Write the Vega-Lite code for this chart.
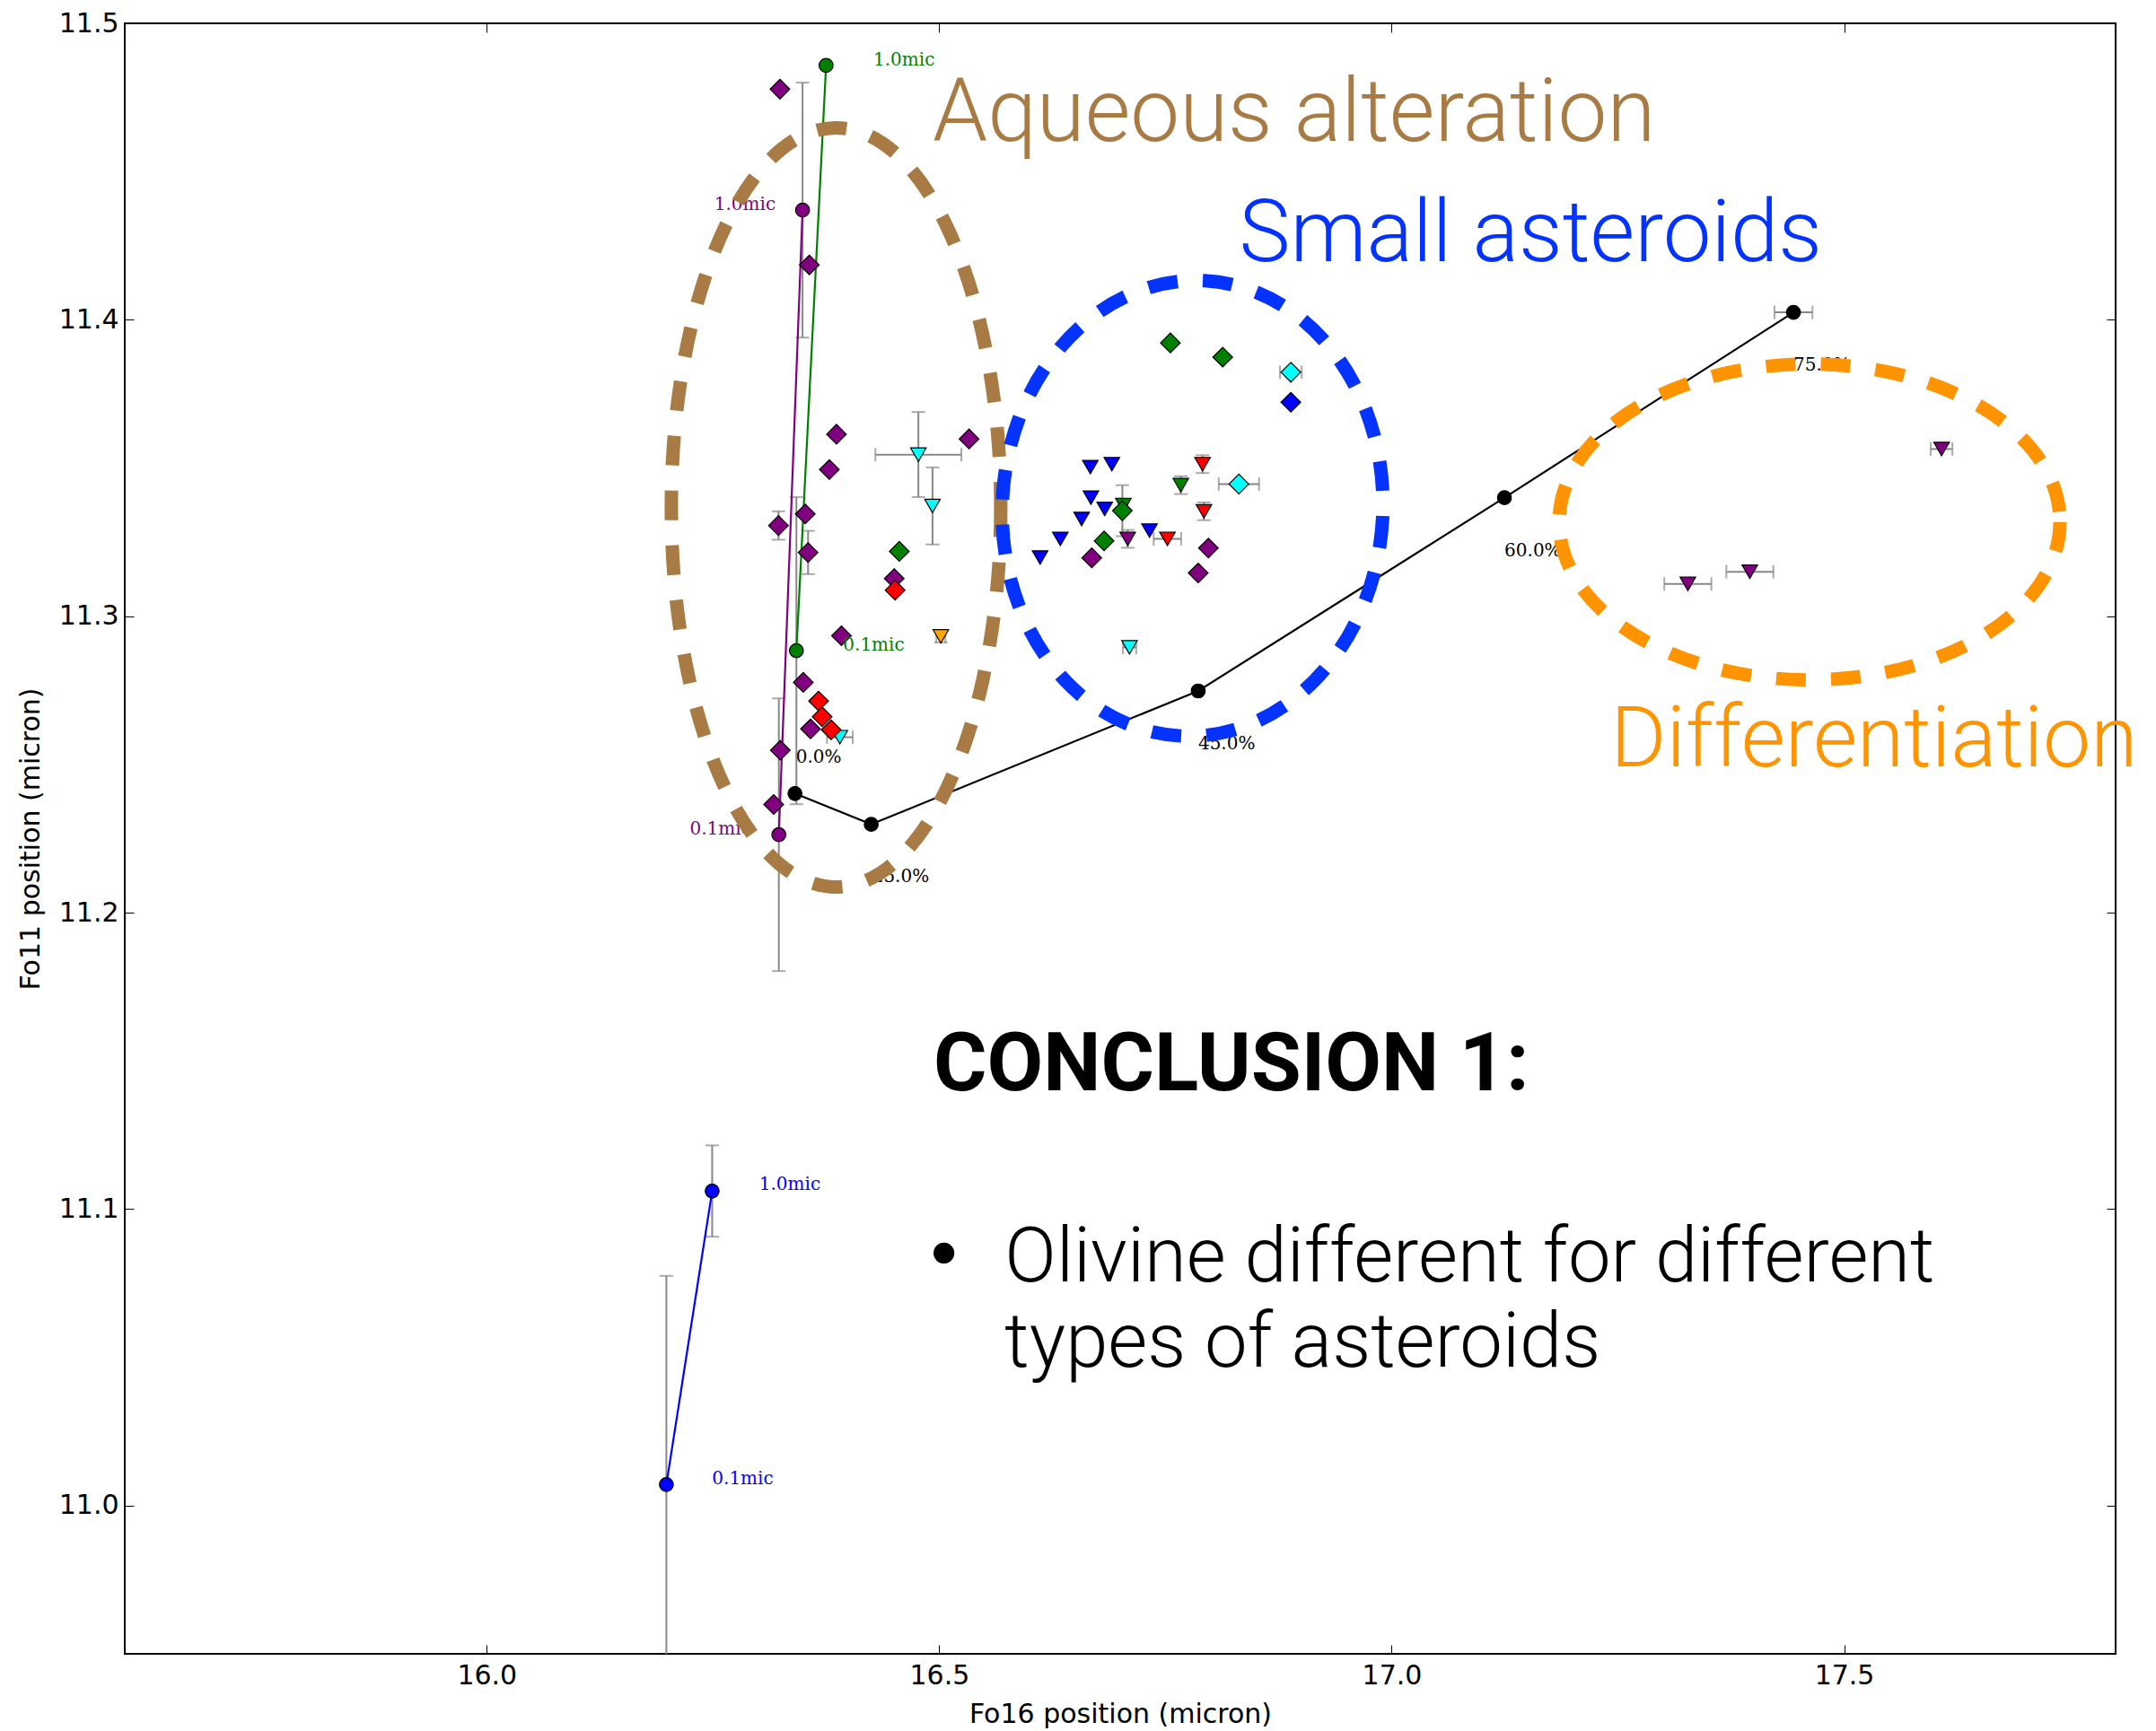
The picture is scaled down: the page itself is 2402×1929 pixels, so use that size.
{
  "$schema": "https://vega.github.io/schema/vega-lite/v6.json",
  "width": 2218,
  "height": 1817,
  "autosize": {"type": "none"},
  "padding": {"left": 139, "top": 26, "right": 45, "bottom": 86},
  "background": "white",
  "config": {
    "view": {"stroke": "black", "strokeWidth": 2},
    "axis": {
      "grid": false, "domain": false, "tickColor": "black", "tickWidth": 1, "tickSize": -10,
      "labelFont": "DejaVu Sans", "labelFontSize": 30, "labelColor": "black",
      "titleFont": "DejaVu Sans", "titleFontSize": 30, "titleFontWeight": "normal", "titleColor": "black",
      "labelFlush": false, "labelOverlap": false
    }
  },
  "resolve": {"axis": {"x": "independent", "y": "independent"}},
  "datasets": {
    "vbars": [
      {"x": 16.349, "ylo": 11.394, "yhi": 11.480},
      {"x": 16.3422, "ylo": 11.2366, "yhi": 11.3402},
      {"x": 16.3228, "ylo": 11.1803, "yhi": 11.2723},
      {"x": 16.2491, "ylo": 11.0907, "yhi": 11.1215},
      {"x": 16.1985, "ylo": 10.9367, "yhi": 11.0775},
      {"x": 16.3224, "ylo": 11.3258, "yhi": 11.3354},
      {"x": 16.3551, "ylo": 11.3142, "yhi": 11.3288},
      {"x": 16.477, "ylo": 11.3402, "yhi": 11.3689},
      {"x": 16.4926, "ylo": 11.3242, "yhi": 11.3502},
      {"x": 16.7024, "ylo": 11.327, "yhi": 11.3442},
      {"x": 16.791, "ylo": 11.3483, "yhi": 11.3543},
      {"x": 16.7925, "ylo": 11.3324, "yhi": 11.3384},
      {"x": 16.767, "ylo": 11.3412, "yhi": 11.3472},
      {"x": 16.7083, "ylo": 11.3231, "yhi": 11.3291},
      {"x": 16.5018, "ylo": 11.2912, "yhi": 11.2952}
    ],
    "hbars": [
      {"y": 11.3545, "xlo": 16.4295, "xhi": 16.5245},
      {"y": 11.2592, "xlo": 16.376, "xhi": 16.4044},
      {"y": 11.2932, "xlo": 16.4968, "xhi": 16.5068},
      {"y": 11.3823, "xlo": 16.8766, "xhi": 16.9006},
      {"y": 11.3446, "xlo": 16.8089, "xhi": 16.8535},
      {"y": 11.3261, "xlo": 16.737, "xhi": 16.7674},
      {"y": 11.2895, "xlo": 16.7029, "xhi": 16.7177},
      {"y": 11.4025, "xlo": 17.423, "xhi": 17.465},
      {"y": 11.3564, "xlo": 17.5957, "xhi": 17.6197},
      {"y": 11.315, "xlo": 17.3698, "xhi": 17.4218},
      {"y": 11.3109, "xlo": 17.3013, "xhi": 17.3533}
    ],
    "lines": [
      {"s": "black", "o": 1, "x": 16.3406, "y": 11.2402},
      {"s": "black", "o": 2, "x": 16.4249, "y": 11.2298},
      {"s": "black", "o": 3, "x": 16.7862, "y": 11.2748},
      {"s": "black", "o": 4, "x": 17.1246, "y": 11.34},
      {"s": "black", "o": 5, "x": 17.444, "y": 11.4025},
      {"s": "purple", "o": 1, "x": 16.3228, "y": 11.2263},
      {"s": "purple", "o": 2, "x": 16.349, "y": 11.437},
      {"s": "green", "o": 1, "x": 16.3422, "y": 11.2884},
      {"s": "green", "o": 2, "x": 16.375, "y": 11.4858},
      {"s": "blue", "o": 1, "x": 16.1985, "y": 11.0071},
      {"s": "blue", "o": 2, "x": 16.2491, "y": 11.1061}
    ],
    "pts": [
      {"m": "t", "c": "cyan", "x": 16.477, "y": 11.3545},
      {"m": "t", "c": "cyan", "x": 16.4926, "y": 11.3372},
      {"m": "t", "c": "cyan", "x": 16.3902, "y": 11.2592},
      {"m": "t", "c": "cyan", "x": 16.7103, "y": 11.2895},
      {"m": "t", "c": "orange", "x": 16.5018, "y": 11.2932},
      {"m": "t", "c": "blue", "x": 16.667, "y": 11.3503},
      {"m": "t", "c": "blue", "x": 16.6908, "y": 11.3513},
      {"m": "t", "c": "blue", "x": 16.6677, "y": 11.34},
      {"m": "t", "c": "blue", "x": 16.6829, "y": 11.3362},
      {"m": "t", "c": "blue", "x": 16.6574, "y": 11.3328},
      {"m": "t", "c": "blue", "x": 16.7324, "y": 11.3289},
      {"m": "t", "c": "blue", "x": 16.6338, "y": 11.3261},
      {"m": "t", "c": "blue", "x": 16.6115, "y": 11.3198},
      {"m": "t", "c": "red", "x": 16.791, "y": 11.3513},
      {"m": "t", "c": "red", "x": 16.7925, "y": 11.3354},
      {"m": "t", "c": "red", "x": 16.7522, "y": 11.3261},
      {"m": "t", "c": "green", "x": 16.767, "y": 11.3442},
      {"m": "t", "c": "green", "x": 16.7035, "y": 11.3375},
      {"m": "t", "c": "purple", "x": 16.7083, "y": 11.3261},
      {"m": "t", "c": "purple", "x": 17.6077, "y": 11.3564},
      {"m": "t", "c": "purple", "x": 17.3958, "y": 11.315},
      {"m": "t", "c": "purple", "x": 17.3273, "y": 11.3109},
      {"m": "d", "c": "purple", "x": 16.324, "y": 11.4778},
      {"m": "d", "c": "purple", "x": 16.3565, "y": 11.4185},
      {"m": "d", "c": "purple", "x": 16.3865, "y": 11.3614},
      {"m": "d", "c": "purple", "x": 16.533, "y": 11.3598},
      {"m": "d", "c": "purple", "x": 16.3786, "y": 11.3495},
      {"m": "d", "c": "purple", "x": 16.352, "y": 11.3345},
      {"m": "d", "c": "purple", "x": 16.3224, "y": 11.3306},
      {"m": "d", "c": "purple", "x": 16.3551, "y": 11.3215},
      {"m": "d", "c": "purple", "x": 16.4503, "y": 11.3127},
      {"m": "d", "c": "purple", "x": 16.392, "y": 11.2934},
      {"m": "d", "c": "purple", "x": 16.3498, "y": 11.2777},
      {"m": "d", "c": "purple", "x": 16.3578, "y": 11.262},
      {"m": "d", "c": "purple", "x": 16.3244, "y": 11.2548},
      {"m": "d", "c": "purple", "x": 16.3171, "y": 11.2365},
      {"m": "d", "c": "purple", "x": 16.6686, "y": 11.3197},
      {"m": "d", "c": "purple", "x": 16.7975, "y": 11.323},
      {"m": "d", "c": "purple", "x": 16.7862, "y": 11.3146},
      {"m": "d", "c": "green", "x": 16.4559, "y": 11.3219},
      {"m": "d", "c": "green", "x": 16.7555, "y": 11.3922},
      {"m": "d", "c": "green", "x": 16.8133, "y": 11.3874},
      {"m": "d", "c": "green", "x": 16.7024, "y": 11.3356},
      {"m": "d", "c": "green", "x": 16.6822, "y": 11.3254},
      {"m": "d", "c": "red", "x": 16.4513, "y": 11.3088},
      {"m": "d", "c": "red", "x": 16.3667, "y": 11.2714},
      {"m": "d", "c": "red", "x": 16.3707, "y": 11.2661},
      {"m": "d", "c": "red", "x": 16.3806, "y": 11.2617},
      {"m": "d", "c": "cyan", "x": 16.8886, "y": 11.3823},
      {"m": "d", "c": "cyan", "x": 16.8312, "y": 11.3446},
      {"m": "d", "c": "blue", "x": 16.8886, "y": 11.3722}
    ],
    "labels": [
      {"c": "green", "t": "1.0mic", "x": 16.4272, "y": 11.4877},
      {"c": "purple", "t": "1.0mic", "x": 16.2514, "y": 11.4389},
      {"c": "green", "t": "0.1mic", "x": 16.3938, "y": 11.2902},
      {"c": "purple", "t": "0.1mic", "x": 16.2243, "y": 11.2283},
      {"c": "blue", "t": "1.0mic", "x": 16.301, "y": 11.1082},
      {"c": "blue", "t": "0.1mic", "x": 16.249, "y": 11.0091},
      {"c": "black", "t": "0.0%", "x": 16.3416, "y": 11.2523},
      {"c": "black", "t": "25.0%", "x": 16.4259, "y": 11.2121},
      {"c": "black", "t": "45.0%", "x": 16.7862, "y": 11.2569},
      {"c": "black", "t": "60.0%", "x": 17.1246, "y": 11.322},
      {"c": "black", "t": "75.0%", "x": 17.444, "y": 11.3846}
    ],
    "regions": [
      {"k": "aq", "x": 16.386, "y": 11.3367},
      {"k": "sa", "x": 16.78, "y": 11.3364},
      {"k": "df", "x": 17.4618, "y": 11.3318}
    ],
    "notes": [
      {"k": "aq", "t": "Aqueous alteration", "x": 16.4926, "y": 11.4604},
      {"k": "sa", "t": "Small asteroids", "x": 16.8315, "y": 11.4198},
      {"k": "df", "t": "Differentiation", "x": 17.2418, "y": 11.2493},
      {"k": "c1", "t": "CONCLUSION 1:", "x": 16.4936, "y": 11.14},
      {"k": "bu", "t": "•", "x": 16.5053, "y": 11.0836},
      {"k": "l1", "t": "Olivine different for different", "x": 16.5724, "y": 11.0755},
      {"k": "l2", "t": "types of asteroids", "x": 16.5724, "y": 11.0468}
    ]
  },
  "layer": [
    {
      "data": {"name": "vbars"},
      "mark": {"type": "rule", "color": "#888888", "strokeWidth": 2, "clip": true},
      "encoding": {
        "x": {"field": "x", "type": "quantitative", "scale": {"domain": [15.6, 17.8], "nice": false, "zero": false},
              "axis": {"values": [16.0, 16.5, 17.0, 17.5], "format": ".1f", "title": "Fo16 position (micron)", "labelPadding": 19, "titlePadding": 13}},
        "y": {"field": "ylo", "type": "quantitative", "scale": {"domain": [10.95, 11.5], "nice": false, "zero": false},
              "axis": {"values": [11.0, 11.1, 11.2, 11.3, 11.4, 11.5], "format": ".1f", "title": "Fo11 position (micron)", "labelPadding": 17, "titlePadding": 16}},
        "y2": {"field": "yhi"}
      }
    },
    {
      "data": {"name": "vbars"},
      "mark": {"type": "tick", "orient": "horizontal", "color": "#888888", "size": 15, "thickness": 2, "clip": true},
      "encoding": {
        "x": {"field": "x", "type": "quantitative", "scale": {"domain": [15.6, 17.8], "nice": false, "zero": false}, "axis": null},
        "y": {"field": "ylo", "type": "quantitative", "scale": {"domain": [10.95, 11.5], "nice": false, "zero": false}, "axis": null}
      }
    },
    {
      "data": {"name": "vbars"},
      "mark": {"type": "tick", "orient": "horizontal", "color": "#888888", "size": 15, "thickness": 2, "clip": true},
      "encoding": {
        "x": {"field": "x", "type": "quantitative", "scale": {"domain": [15.6, 17.8], "nice": false, "zero": false}, "axis": null},
        "y": {"field": "yhi", "type": "quantitative", "scale": {"domain": [10.95, 11.5], "nice": false, "zero": false}, "axis": null}
      }
    },
    {
      "data": {"name": "hbars"},
      "mark": {"type": "rule", "color": "#888888", "strokeWidth": 2, "clip": true},
      "encoding": {
        "x": {"field": "xlo", "type": "quantitative", "scale": {"domain": [15.6, 17.8], "nice": false, "zero": false}, "axis": null},
        "x2": {"field": "xhi"},
        "y": {"field": "y", "type": "quantitative", "scale": {"domain": [10.95, 11.5], "nice": false, "zero": false}, "axis": null}
      }
    },
    {
      "data": {"name": "hbars"},
      "mark": {"type": "tick", "orient": "vertical", "color": "#888888", "size": 15, "thickness": 2, "clip": true},
      "encoding": {
        "x": {"field": "xlo", "type": "quantitative", "scale": {"domain": [15.6, 17.8], "nice": false, "zero": false}, "axis": null},
        "y": {"field": "y", "type": "quantitative", "scale": {"domain": [10.95, 11.5], "nice": false, "zero": false}, "axis": null}
      }
    },
    {
      "data": {"name": "hbars"},
      "mark": {"type": "tick", "orient": "vertical", "color": "#888888", "size": 15, "thickness": 2, "clip": true},
      "encoding": {
        "x": {"field": "xhi", "type": "quantitative", "scale": {"domain": [15.6, 17.8], "nice": false, "zero": false}, "axis": null},
        "y": {"field": "y", "type": "quantitative", "scale": {"domain": [10.95, 11.5], "nice": false, "zero": false}, "axis": null}
      }
    },
    {
      "data": {"name": "lines"},
      "mark": {"type": "line", "strokeWidth": 2.2},
      "encoding": {
        "x": {"field": "x", "type": "quantitative", "scale": {"domain": [15.6, 17.8], "nice": false, "zero": false},
              "axis": {"orient": "top", "labels": false, "title": null, "values": [16.0, 16.5, 17.0, 17.5]}},
        "y": {"field": "y", "type": "quantitative", "scale": {"domain": [10.95, 11.5], "nice": false, "zero": false},
              "axis": {"orient": "right", "labels": false, "title": null, "values": [11.0, 11.1, 11.2, 11.3, 11.4, 11.5]}},
        "color": {"field": "s", "type": "nominal", "legend": null,
                  "scale": {"domain": ["purple", "green", "red", "cyan", "blue", "orange", "black"], "range": ["#800080", "#008000", "#FF0000", "#00FFFF", "#0000FF", "#FFA500", "#000000"]}},
        "detail": {"field": "s"},
        "order": {"field": "o", "type": "quantitative"}
      }
    },
    {
      "data": {"name": "lines"},
      "mark": {"type": "point", "shape": "circle", "filled": true, "size": 240, "stroke": "black", "strokeWidth": 1.2, "opacity": 1},
      "encoding": {
        "x": {"field": "x", "type": "quantitative", "scale": {"domain": [15.6, 17.8], "nice": false, "zero": false}, "axis": null},
        "y": {"field": "y", "type": "quantitative", "scale": {"domain": [10.95, 11.5], "nice": false, "zero": false}, "axis": null},
        "fill": {"field": "s", "type": "nominal", "legend": null,
                 "scale": {"domain": ["purple", "green", "red", "cyan", "blue", "orange", "black"], "range": ["#800080", "#008000", "#FF0000", "#00FFFF", "#0000FF", "#FFA500", "#000000"]}}
      }
    },
    {
      "data": {"name": "pts"},
      "transform": [{"filter": "datum.m === 't'"}],
      "mark": {"type": "point", "shape": "triangle-down", "filled": true, "size": 300, "stroke": "black", "strokeWidth": 1.2, "opacity": 1},
      "encoding": {
        "x": {"field": "x", "type": "quantitative", "scale": {"domain": [15.6, 17.8], "nice": false, "zero": false}, "axis": null},
        "y": {"field": "y", "type": "quantitative", "scale": {"domain": [10.95, 11.5], "nice": false, "zero": false}, "axis": null},
        "fill": {"field": "c", "type": "nominal", "legend": null,
                 "scale": {"domain": ["purple", "green", "red", "cyan", "blue", "orange", "black"], "range": ["#800080", "#008000", "#FF0000", "#00FFFF", "#0000FF", "#FFA500", "#000000"]}}
      }
    },
    {
      "data": {"name": "pts"},
      "transform": [{"filter": "datum.m === 'd'"}],
      "mark": {"type": "point", "shape": "diamond", "filled": true, "size": 480, "stroke": "black", "strokeWidth": 1.2, "opacity": 1},
      "encoding": {
        "x": {"field": "x", "type": "quantitative", "scale": {"domain": [15.6, 17.8], "nice": false, "zero": false}, "axis": null},
        "y": {"field": "y", "type": "quantitative", "scale": {"domain": [10.95, 11.5], "nice": false, "zero": false}, "axis": null},
        "fill": {"field": "c", "type": "nominal", "legend": null,
                 "scale": {"domain": ["purple", "green", "red", "cyan", "blue", "orange", "black"], "range": ["#800080", "#008000", "#FF0000", "#00FFFF", "#0000FF", "#FFA500", "#000000"]}}
      }
    },
    {
      "data": {"name": "labels"},
      "mark": {"type": "text", "align": "left", "baseline": "middle", "font": "DejaVu Serif", "fontSize": 20},
      "encoding": {
        "x": {"field": "x", "type": "quantitative", "scale": {"domain": [15.6, 17.8], "nice": false, "zero": false}, "axis": null},
        "y": {"field": "y", "type": "quantitative", "scale": {"domain": [10.95, 11.5], "nice": false, "zero": false}, "axis": null},
        "text": {"field": "t"},
        "color": {"field": "c", "type": "nominal", "legend": null,
                  "scale": {"domain": ["purple", "green", "red", "cyan", "blue", "orange", "black"], "range": ["#800080", "#008000", "#FF0000", "#00FFFF", "#0000FF", "#FFA500", "#000000"]}}
      }
    },
    {
      "data": {"name": "regions"},
      "transform": [{"filter": "datum.k === 'aq'"}],
      "mark": {"type": "point", "filled": false, "fill": null, "opacity": 1, "size": 715716, "stroke": "#A97B44", "strokeWidth": 15, "strokeDash": [33, 28],
               "shape": "M0.4338,0 C0.4338,0.5523 0.2396,1 0,1 C-0.2396,1 -0.4338,0.5523 -0.4338,0 C-0.4338,-0.5523 -0.2396,-1 0,-1 C0.2396,-1 0.4338,-0.5523 0.4338,0 Z"},
      "encoding": {
        "x": {"field": "x", "type": "quantitative", "scale": {"domain": [15.6, 17.8], "nice": false, "zero": false}, "axis": null},
        "y": {"field": "y", "type": "quantitative", "scale": {"domain": [10.95, 11.5], "nice": false, "zero": false}, "axis": null}
      }
    },
    {
      "data": {"name": "regions"},
      "transform": [{"filter": "datum.k === 'sa'"}],
      "mark": {"type": "point", "filled": false, "fill": null, "opacity": 1, "size": 258064, "stroke": "#0433FF", "strokeWidth": 15, "strokeDash": [33, 28],
               "shape": "M0.8335,0.0437 C0.8046,0.5952 0.4081,1.0227 -0.0523,0.9986 C-0.5127,0.9745 -0.8624,0.5078 -0.8335,-0.0437 C-0.8046,-0.5952 -0.4081,-1.0227 0.0523,-0.9986 C0.5127,-0.9745 0.8624,-0.5078 0.8335,0.0437 Z"},
      "encoding": {
        "x": {"field": "x", "type": "quantitative", "scale": {"domain": [15.6, 17.8], "nice": false, "zero": false}, "axis": null},
        "y": {"field": "y", "type": "quantitative", "scale": {"domain": [10.95, 11.5], "nice": false, "zero": false}, "axis": null}
      }
    },
    {
      "data": {"name": "regions"},
      "transform": [{"filter": "datum.k === 'df'"}],
      "mark": {"type": "point", "filled": false, "fill": null, "opacity": 1, "size": 311364, "stroke": "#FF9300", "strokeWidth": 15, "strokeDash": [33, 28],
               "shape": "M1,0 C1,0.3484 0.5523,0.6308 0,0.6308 C-0.5523,0.6308 -1,0.3484 -1,0 C-1,-0.3484 -0.5523,-0.6308 0,-0.6308 C0.5523,-0.6308 1,-0.3484 1,0 Z"},
      "encoding": {
        "x": {"field": "x", "type": "quantitative", "scale": {"domain": [15.6, 17.8], "nice": false, "zero": false}, "axis": null},
        "y": {"field": "y", "type": "quantitative", "scale": {"domain": [10.95, 11.5], "nice": false, "zero": false}, "axis": null}
      }
    },
    {
      "data": {"name": "notes"},
      "transform": [{"filter": "datum.k === 'aq'"}],
      "mark": {"type": "text", "align": "left", "baseline": "alphabetic", "font": "Roboto", "fontWeight": 300, "fontSize": 98, "color": "#A97B44"},
      "encoding": {
        "x": {"field": "x", "type": "quantitative", "scale": {"domain": [15.6, 17.8], "nice": false, "zero": false}, "axis": null},
        "y": {"field": "y", "type": "quantitative", "scale": {"domain": [10.95, 11.5], "nice": false, "zero": false}, "axis": null},
        "text": {"field": "t"}
      }
    },
    {
      "data": {"name": "notes"},
      "transform": [{"filter": "datum.k === 'sa'"}],
      "mark": {"type": "text", "align": "left", "baseline": "alphabetic", "font": "Roboto", "fontWeight": 300, "fontSize": 96, "color": "#0433FF"},
      "encoding": {
        "x": {"field": "x", "type": "quantitative", "scale": {"domain": [15.6, 17.8], "nice": false, "zero": false}, "axis": null},
        "y": {"field": "y", "type": "quantitative", "scale": {"domain": [10.95, 11.5], "nice": false, "zero": false}, "axis": null},
        "text": {"field": "t"}
      }
    },
    {
      "data": {"name": "notes"},
      "transform": [{"filter": "datum.k === 'df'"}],
      "mark": {"type": "text", "align": "left", "baseline": "alphabetic", "font": "Roboto", "fontWeight": 300, "fontSize": 95, "color": "#FF9300"},
      "encoding": {
        "x": {"field": "x", "type": "quantitative", "scale": {"domain": [15.6, 17.8], "nice": false, "zero": false}, "axis": null},
        "y": {"field": "y", "type": "quantitative", "scale": {"domain": [10.95, 11.5], "nice": false, "zero": false}, "axis": null},
        "text": {"field": "t"}
      }
    },
    {
      "data": {"name": "notes"},
      "transform": [{"filter": "datum.k === 'c1'"}],
      "mark": {"type": "text", "align": "left", "baseline": "alphabetic", "font": "Roboto", "fontWeight": "bold", "fontSize": 91, "color": "black"},
      "encoding": {
        "x": {"field": "x", "type": "quantitative", "scale": {"domain": [15.6, 17.8], "nice": false, "zero": false}, "axis": null},
        "y": {"field": "y", "type": "quantitative", "scale": {"domain": [10.95, 11.5], "nice": false, "zero": false}, "axis": null},
        "text": {"field": "t"}
      }
    },
    {
      "data": {"name": "notes"},
      "transform": [{"filter": "datum.k === 'bu'"}],
      "mark": {"type": "text", "align": "center", "baseline": "middle", "font": "DejaVu Sans", "fontWeight": "normal", "fontSize": 80, "color": "black"},
      "encoding": {
        "x": {"field": "x", "type": "quantitative", "scale": {"domain": [15.6, 17.8], "nice": false, "zero": false}, "axis": null},
        "y": {"field": "y", "type": "quantitative", "scale": {"domain": [10.95, 11.5], "nice": false, "zero": false}, "axis": null},
        "text": {"field": "t"}
      }
    },
    {
      "data": {"name": "notes"},
      "transform": [{"filter": "datum.k === 'l1' || datum.k === 'l2'"}],
      "mark": {"type": "text", "align": "left", "baseline": "alphabetic", "font": "Roboto", "fontWeight": 300, "fontSize": 85, "color": "black"},
      "encoding": {
        "x": {"field": "x", "type": "quantitative", "scale": {"domain": [15.6, 17.8], "nice": false, "zero": false}, "axis": null},
        "y": {"field": "y", "type": "quantitative", "scale": {"domain": [10.95, 11.5], "nice": false, "zero": false}, "axis": null},
        "text": {"field": "t"}
      }
    }
  ]
}
